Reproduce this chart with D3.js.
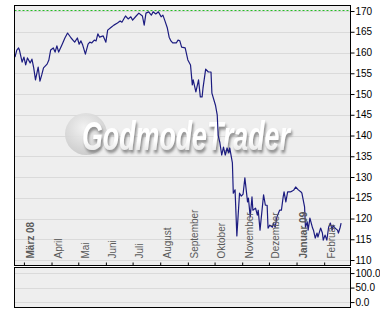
<!DOCTYPE html>
<meta charset="utf-8">
<style>
body { margin: 0; background: #fff; }
svg { display: block; font-family: "Liberation Sans", Arial, sans-serif; }
.yax text { font-size: 10px; fill: #000; }
.xax text { font-size: 10px; fill: #5a5a5a; }
</style>
<body>
<svg id="chart" width="380" height="325"></svg>
<script src="https://cdnjs.cloudflare.com/ajax/libs/d3/7.8.5/d3.min.js"></script>
<script>
// closing prices
var dates = ["2008-02-20","2008-02-22","2008-02-24","2008-02-25","2008-02-28","2008-03-01","2008-03-03","2008-03-05","2008-03-08","2008-03-10",
  "2008-03-12","2008-03-14","2008-03-17","2008-03-19","2008-03-21","2008-03-23","2008-03-27","2008-03-29","2008-03-31","2008-04-03",
  "2008-04-05","2008-04-07","2008-04-09","2008-04-13","2008-04-16","2008-04-19","2008-04-23","2008-04-25","2008-04-27","2008-04-30",
  "2008-05-02","2008-05-04","2008-05-06","2008-05-09","2008-05-12","2008-05-14","2008-05-16","2008-05-19","2008-05-21","2008-05-23",
  "2008-05-25","2008-05-29","2008-06-01","2008-06-03","2008-06-07","2008-06-10","2008-06-14","2008-06-17","2008-06-19","2008-06-23",
  "2008-06-26","2008-06-29","2008-07-01","2008-07-05","2008-07-08","2008-07-12","2008-07-14","2008-07-16","2008-07-19","2008-07-22",
  "2008-07-24","2008-07-27","2008-07-30","2008-08-02","2008-08-04","2008-08-06","2008-08-09","2008-08-11","2008-08-13","2008-08-15",
  "2008-08-19","2008-08-21","2008-08-23","2008-08-25","2008-08-29","2008-09-01","2008-09-04","2008-09-06","2008-09-07","2008-09-10",
  "2008-09-13","2008-09-15","2008-09-17","2008-09-18","2008-09-21","2008-09-24","2008-09-27","2008-09-28","2008-10-02","2008-10-04",
  "2008-10-05","2008-10-07","2008-10-09","2008-10-11","2008-10-13","2008-10-15","2008-10-17","2008-10-18","2008-10-21","2008-10-22",
  "2008-10-24","2008-10-26","2008-10-29","2008-10-31","2008-11-02","2008-11-04","2008-11-07","2008-11-08","2008-11-10","2008-11-12",
  "2008-11-13","2008-11-16","2008-11-18","2008-11-19","2008-11-21","2008-11-25","2008-11-27","2008-11-29","2008-11-30","2008-12-02",
  "2008-12-05","2008-12-06","2008-12-08","2008-12-10","2008-12-13","2008-12-15","2008-12-17","2008-12-18","2008-12-20","2008-12-22",
  "2008-12-25","2008-12-27","2008-12-29","2008-12-31","2009-01-03","2009-01-06","2009-01-07","2009-01-10","2009-01-11","2009-01-13",
  "2009-01-14","2009-01-16","2009-01-19","2009-01-20","2009-01-22","2009-01-24","2009-01-25","2009-01-28","2009-01-30","2009-01-31",
  "2009-02-02","2009-02-04","2009-02-06","2009-02-08","2009-02-10","2009-02-11","2009-02-13","2009-02-16","2009-02-17","2009-02-19",
  "2009-02-20"];
var prices = [158.9,160.6,161.1,160.6,157.7,158.9,157.0,158.7,157.5,158.4,
  156.3,153.4,156.5,153.1,154.6,156.3,157.2,158.2,160.6,161.1,
  160.1,161.6,160.1,162.0,163.5,164.7,163.5,163.0,162.5,163.5,
  162.0,162.8,161.8,159.6,162.0,162.5,162.3,163.0,162.8,164.5,
  163.7,164.0,162.5,165.4,166.1,166.6,167.1,167.6,167.3,168.8,
  168.1,168.6,167.8,168.8,169.5,168.8,166.6,169.5,169.8,169.0,
  169.8,169.3,169.8,168.6,169.0,167.8,165.9,163.7,162.8,162.3,
  162.3,163.0,162.8,161.3,161.1,158.2,157.0,152.2,153.4,150.5,
  153.4,149.3,149.3,151.4,156.0,155.3,155.3,150.2,147.3,144.9,
  140.1,138.2,135.3,137.2,135.3,137.0,135.8,137.0,133.4,126.1,
  126.9,115.8,126.1,125.4,125.9,129.8,124.0,124.9,120.4,125.2,
  122.0,122.5,120.8,122.0,117.2,125.7,123.2,123.2,117.7,118.4,
  117.9,118.9,117.9,120.4,122.0,122.0,125.2,126.4,124.0,126.4,
  126.4,126.6,126.9,127.6,126.9,126.4,126.1,122.8,117.9,119.2,
  117.2,120.1,117.7,117.2,115.3,116.5,115.5,117.7,116.5,114.8,
  116.0,114.8,117.9,118.9,117.2,118.4,117.7,117.2,116.5,117.9,
  118.9];
var monthTicks = ["2008-03-01","2008-04-01","2008-05-01","2008-06-01","2008-07-01","2008-08-01",
  "2008-09-01","2008-10-01","2008-11-01","2008-12-01","2009-01-01","2009-02-01"];
var monthLabels = ["März 08","April","Mai","Juni","Juli","August","September","Oktober","November","Dezember","Januar 09","Februar"];
var priceTicks = [110,115,120,125,130,135,140,145,150,155,160,165,170];
var lowerTicks = [0,50,100];
var highLine = 170.25;

var parse = d3.timeParse("%Y-%m-%d");
var data = dates.map(function(d, i) { return {date: parse(d), v: prices[i]}; });

var svg = d3.select("#chart");
var L = 14.5, R = 350.5, T = 5.5, B = 265.5, T2 = 267.5, B2 = 307.5;

var x = d3.scaleTime().domain([parse("2008-02-20"), parse("2009-03-02")]).range([15, 350]);
var y = d3.scaleLinear().domain([108.8, 171.45]).range([265, 5]);
var y2 = d3.scaleLinear().domain([-17, 121]).range([307, 267]);

var defs = svg.append("defs");
defs.append("clipPath").attr("id", "clip").append("rect")
  .attr("x", L).attr("y", T).attr("width", R - L).attr("height", B - T);
var rg = defs.append("radialGradient").attr("id", "ball").attr("cx", "45%").attr("cy", "35%").attr("r", "70%");
rg.append("stop").attr("offset", "0%").attr("stop-color", "#f2f2f2");
rg.append("stop").attr("offset", "100%").attr("stop-color", "#c6c6c6");
var lg = defs.append("linearGradient").attr("id", "wmfill").attr("x1", 0).attr("y1", 0).attr("x2", 0).attr("y2", 1);
lg.append("stop").attr("offset", "0%").attr("stop-color", "#ffffff");
lg.append("stop").attr("offset", "60%").attr("stop-color", "#ffffff");
lg.append("stop").attr("offset", "100%").attr("stop-color", "#d8d8d8");
var f = defs.append("filter").attr("id", "shadow").attr("x", "-10%").attr("y", "-20%").attr("width", "130%").attr("height", "150%");
f.append("feDropShadow").attr("dx", 2).attr("dy", 3).attr("stdDeviation", 1.5).attr("flood-color", "#8a8a8a");

// panels
svg.append("rect").attr("x", L).attr("y", T).attr("width", R - L).attr("height", B - T).attr("fill", "#eeeeee");
svg.append("rect").attr("x", L).attr("y", T2).attr("width", R - L).attr("height", B2 - T2).attr("fill", "#eeeeee");

// grid
svg.append("g").selectAll("line").data(priceTicks).join("line")
  .attr("x1", L).attr("x2", R)
  .attr("y1", function(d) { return Math.round(y(d)) + 0.5; }).attr("y2", function(d) { return Math.round(y(d)) + 0.5; })
  .attr("stroke", "#dadada");
svg.append("g").selectAll("line").data(lowerTicks).join("line")
  .attr("x1", L).attr("x2", R)
  .attr("y1", function(d) { return Math.round(y2(d)) + 0.5; }).attr("y2", function(d) { return Math.round(y2(d)) + 0.5; })
  .attr("stroke", "#dadada");

// watermark
var wm = svg.append("g");
wm.append("circle").attr("cx", 86).attr("cy", 134).attr("r", 21).attr("fill", "url(#ball)").attr("opacity", 0.9);
var wt = wm.append("text").attr("x", 0).attr("y", 0)
  .style("font-family", "'Liberation Sans Narrow', 'Liberation Sans', Arial, sans-serif")
  .style("font-size", "40px").style("font-weight", "bold").style("font-style", "italic")
  .attr("fill", "url(#wmfill)").attr("filter", "url(#shadow)")
  .text("GodmodeTrader");
var wlen = wt.node().getComputedTextLength();
wt.attr("transform", "translate(82,150) scale(" + (208 / wlen) + ",1)");

// high marker
svg.append("line").attr("x1", L).attr("x2", R)
  .attr("y1", Math.round(y(highLine)) + 0.5).attr("y2", Math.round(y(highLine)) + 0.5)
  .attr("stroke", "#22bb22").attr("stroke-dasharray", "2,2");

// price line
var line = d3.line().x(function(d) { return x(d.date); }).y(function(d) { return y(d.v); });
svg.append("path").datum(data).attr("clip-path", "url(#clip)")
  .attr("d", line).attr("fill", "none").attr("stroke", "#1c1c80").attr("stroke-width", 1.2)
  .attr("stroke-linejoin", "round");

// x axis with rotated month names
var xAxis = d3.axisBottom(x).tickValues(monthTicks.map(parse)).tickSize(-3)
  .tickFormat(function(d, i) { return monthLabels[i]; });
var gx = svg.append("g").attr("class", "xax").attr("transform", "translate(0," + B + ")").call(xAxis);
gx.select(".domain").remove();
gx.selectAll(".tick line").attr("stroke", "#000");
gx.selectAll(".tick text")
  .attr("transform", "rotate(-90)").attr("text-anchor", "start")
  .attr("x", 7).attr("y", 10).attr("dy", 0)
  .style("font-weight", function(d, i) { return (i === 0 || i === 10) ? "bold" : "normal"; })
  .attr("fill", function(d, i) { return (i === 0 || i === 10) ? "#555" : "#666"; });

// right axes
var gy = svg.append("g").attr("class", "yax").attr("transform", "translate(" + R + ",0)")
  .call(d3.axisRight(y).tickValues(priceTicks).tickSize(4).tickPadding(1).tickFormat(d3.format("d")));
gy.select(".domain").remove();
var gy2 = svg.append("g").attr("class", "yax").attr("transform", "translate(" + R + ",0)")
  .call(d3.axisRight(y2).tickValues(lowerTicks).tickSize(4).tickPadding(1).tickFormat(d3.format(".1f")));
gy2.select(".domain").remove();

// frames
svg.append("rect").attr("x", L).attr("y", T).attr("width", R - L).attr("height", B - T)
  .attr("fill", "none").attr("stroke", "#000");
svg.append("rect").attr("x", L).attr("y", T2).attr("width", R - L).attr("height", B2 - T2)
  .attr("fill", "none").attr("stroke", "#000");
</script>
</body>
